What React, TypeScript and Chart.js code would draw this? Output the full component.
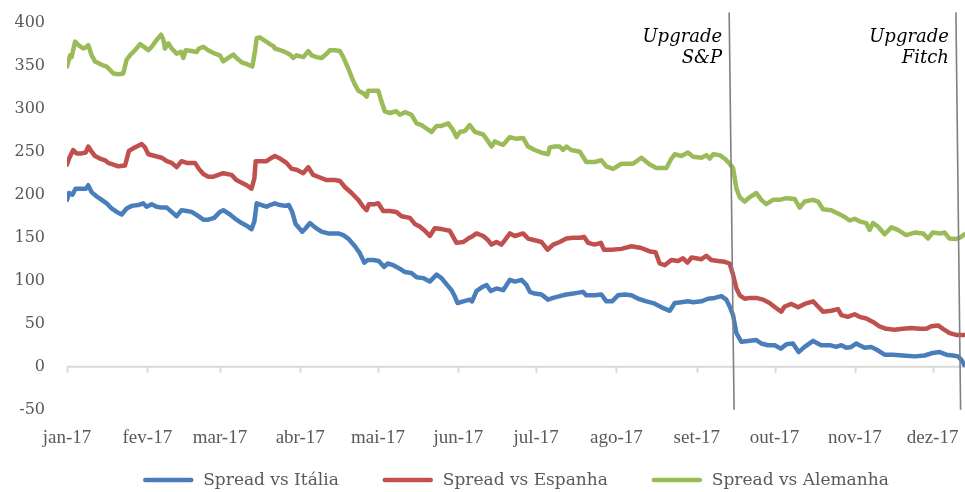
import React, { useEffect, useRef } from "react";
import { Chart, registerables } from "chart.js";

Chart.register(...registerables);

// ---- Data (x = days since 1 Jan 2017) ----
const monthTickDays = [0, 31, 59, 90, 120, 151, 181, 212, 243, 273, 304, 334];
const monthLabels = ["jan-17", "fev-17", "mar-17", "abr-17", "mai-17", "jun-17", "jul-17", "ago-17", "set-17", "out-17", "nov-17", "dez-17"];
const yMin = -50;
const yMax = 400;
const yStep = 50;
const xMaxDay = 346.5;

const seriesNames = ["Spread vs Itália", "Spread vs Espanha", "Spread vs Alemanha"];
const seriesColors = ["#4a7ebb", "#c0504d", "#9bbb59"];

const italiaDays = [0, 0.8, 2.1, 3.3, 5.7, 7.3, 8.2, 9.5, 11.4, 13.4, 15.3, 17.2, 19.2, 21.1, 23, 25, 27.5, 29.4, 30.7, 32.7, 34.6, 36.5, 38.5, 40.4, 42.3, 44.2, 46.2, 48.1, 50.7, 52.6, 54.5, 56.8, 59, 60.3, 62.9, 65.4, 67.4, 69.3, 71.2, 72.3, 73.2, 75.1, 77, 78.3, 80.2, 82.2, 84.1, 85.6, 86.9, 88.2, 90.8, 92.1, 93.7, 95.7, 98.2, 100.8, 104.7, 106.6, 108.5, 111.1, 113, 114.7, 116, 118.2, 120.3, 122.4, 123.7, 125.9, 128.4, 130.4, 132.9, 134.9, 137.4, 140, 142.6, 144.5, 146.4, 148.4, 149.6, 150.7, 152.9, 155.4, 156.3, 158, 159.9, 161.9, 163.5, 165.7, 168.3, 170.9, 172.8, 175.4, 177.3, 178.6, 180.5, 183.1, 185.6, 187.6, 190.1, 192.7, 195.3, 199.1, 200.4, 203.6, 206.2, 208.1, 210.3, 212.6, 215.2, 217.8, 220.4, 223.6, 226.2, 229.4, 232.6, 234.5, 237.1, 239.6, 241.6, 244.8, 247.3, 249.9, 252.5, 254.4, 255.7, 257, 258.3, 260.2, 262.8, 266, 267.9, 270.5, 273.1, 275.4, 277.6, 280.1, 282.3, 284.6, 287.9, 291, 294.3, 296.8, 298.8, 300.7, 302.6, 304.6, 305.8, 307.8, 310.3, 312.3, 315.5, 318.7, 322.5, 327.1, 330.9, 334.1, 336.7, 339.3, 341.8, 343.8, 345.1, 346.3];
const italiaValues = [194, 202, 200, 207, 207, 207, 211, 203, 198, 194, 190, 184, 180, 177, 184, 187, 188, 190, 186, 189, 186, 185, 185, 180, 175, 182, 181, 180, 175, 171, 171, 173, 180, 182, 177, 171, 167, 164, 160, 169, 190, 188, 186, 188, 190, 188, 187, 188, 180, 166, 157, 161, 167, 162, 157, 155, 155, 153, 149, 140, 132, 121, 124, 124, 123, 116, 120, 118, 114, 110, 109, 104, 103, 99, 107, 103, 96, 89, 82, 74, 76, 78, 76, 88, 92, 95, 88, 91, 89, 101, 99, 101, 95, 87, 85, 84, 78, 80, 82, 84, 85, 87, 83, 83, 84, 76, 76, 83, 84, 83, 79, 76, 74, 69, 65, 74, 75, 76, 75, 76, 79, 80, 82, 78, 70, 60, 39, 29, 30, 31, 27, 25, 25, 21, 26, 27, 17, 23, 30, 25, 25, 23, 25, 22, 23, 27, 25, 22, 23, 20, 14, 14, 13, 12, 13, 16, 17, 14, 13, 12, 8, 2];

const espanhaDays = [0, 0.8, 2.4, 3.7, 5.7, 7.2, 8.2, 9.5, 10.8, 12.7, 14.7, 15.9, 17.9, 19.8, 22.4, 23.9, 25.6, 27.5, 28.8, 30.1, 31.4, 34, 36.5, 38.5, 40.4, 42.3, 44.2, 46.2, 49.4, 50.9, 52.6, 54.5, 56.5, 60.3, 63.5, 65.4, 67.4, 69.3, 71.2, 72.3, 72.8, 75.1, 77, 79, 80.2, 82.2, 84.7, 86.7, 88.6, 91.2, 93.1, 95, 97.6, 100.2, 103.4, 105.3, 107.2, 109.8, 112.4, 114.3, 115.6, 116.5, 118.8, 120.1, 122, 124.6, 127.1, 129.1, 132.3, 134.2, 136.1, 138.1, 140, 141.9, 144.5, 147.7, 149.4, 150.3, 152.9, 154.8, 156.1, 158, 160.6, 162.5, 163.8, 165.7, 167.6, 168.9, 170.9, 172.8, 176, 177.9, 180.5, 183.1, 185.4, 187.6, 190.1, 192.7, 195.3, 197.9, 199.5, 201.1, 203.6, 206, 207.2, 210.1, 213.9, 217.8, 221.6, 224.9, 227.1, 228.7, 230.6, 233.2, 235.8, 237.7, 239.4, 241, 244.8, 246.7, 248.6, 251.2, 253.8, 255.7, 257, 258.3, 259.6, 261.5, 263.4, 266, 268.6, 271.1, 273.7, 275.6, 276.9, 279.5, 282.1, 284.6, 287.9, 289.8, 291.7, 294.9, 297.5, 298.8, 301.3, 303.9, 305.8, 308.4, 311, 313.5, 316.1, 319.3, 322.5, 325.8, 329, 331.6, 333.5, 336.1, 338, 340.6, 343.1, 346.3];
const espanhaValues = [235, 242, 252, 248, 248, 249, 256, 250, 245, 242, 240, 237, 235, 233, 234, 251, 254, 257, 259, 255, 247, 245, 243, 239, 237, 232, 239, 237, 237, 230, 224, 221, 221, 225, 223, 217, 214, 211, 207, 219, 239, 239, 239, 243, 245, 242, 237, 230, 229, 225, 232, 223, 220, 217, 217, 216, 209, 202, 194, 186, 182, 189, 189, 190, 181, 181, 180, 175, 173, 166, 163, 158, 152, 161, 160, 158, 149, 144, 145, 149, 151, 155, 152, 147, 142, 145, 142, 147, 155, 152, 155, 149, 147, 145, 136, 142, 145, 149, 150, 150, 151, 144, 142, 144, 136, 136, 137, 140, 138, 134, 133, 120, 118, 124, 123, 126, 121, 127, 125, 129, 124, 123, 122, 120, 107, 91, 83, 79, 80, 80, 78, 74, 68, 64, 70, 73, 69, 73, 76, 70, 64, 65, 67, 60, 58, 61, 58, 56, 52, 47, 44, 43, 44, 45, 44, 44, 47, 48, 44, 39, 37, 37];

const alemanhaDays = [0, 1.2, 1.8, 3.1, 4.4, 6.3, 7.6, 8.2, 9.5, 10.8, 13.4, 15.3, 16.6, 17.9, 19.8, 21.7, 23, 24.3, 26.2, 28.2, 30.1, 31.4, 32.7, 34.6, 36.3, 37.2, 37.8, 39.1, 40.4, 42.3, 44, 44.9, 45.8, 48.1, 50, 50.9, 52.6, 54.5, 57.1, 59, 60.3, 62.2, 64.2, 65.4, 67.4, 69.3, 71.5, 72.5, 73.2, 74.4, 76.4, 78.3, 79.6, 80.2, 82.2, 84.1, 86, 87.3, 88.6, 91.2, 93.1, 94.4, 96.3, 98.2, 100.2, 101.4, 103.4, 105.3, 106.6, 108.5, 109.8, 111.1, 112.4, 114.3, 115.6, 116.2, 118.2, 120.1, 121.4, 122.6, 124.6, 127.1, 128.4, 130.4, 132.9, 134.9, 136.8, 138.7, 140.6, 142.6, 144.5, 147.1, 149, 150.3, 151.6, 153.5, 155.4, 157.4, 160.6, 162.5, 163.8, 165.1, 166.4, 168.3, 170.9, 173.4, 176, 177.9, 180.5, 183.1, 185.6, 186.3, 188.2, 190.1, 191.4, 192.7, 194.6, 197.9, 200.4, 203.6, 206.2, 208.1, 210.7, 213.9, 218.4, 221.6, 224.9, 227.4, 231.3, 233.2, 234.5, 237.1, 239.6, 241.6, 244.8, 246.7, 248, 249.3, 251.8, 253.8, 255.7, 257, 258.3, 259.6, 261.5, 263.4, 266, 267.9, 269.8, 272.4, 275, 277.6, 280.8, 282.7, 284.6, 287.9, 289.8, 291.7, 294.9, 297.5, 300.1, 302, 303.9, 305.8, 308.4, 309.7, 311, 312.9, 315.5, 318.1, 320.6, 323.8, 327.1, 330.3, 332.2, 334.1, 337.3, 338.6, 340.5, 343.1, 345.1, 346.3];
const alemanhaValues = [349, 362, 360, 378, 374, 370, 372, 374, 362, 355, 351, 349, 345, 341, 340, 341, 357, 362, 368, 375, 371, 368, 372, 380, 386, 380, 370, 376, 370, 364, 366, 359, 368, 367, 366, 370, 372, 368, 364, 362, 355, 359, 363, 359, 354, 352, 349, 366, 382, 383, 379, 375, 373, 370, 368, 366, 363, 359, 362, 360, 367, 362, 360, 359, 364, 368, 368, 367, 360, 347, 337, 328, 321, 318, 314, 321, 321, 321, 308, 297, 295, 297, 293, 296, 293, 283, 281, 277, 273, 280, 280, 283, 275, 267, 273, 274, 281, 273, 270, 262, 256, 262, 260, 258, 267, 265, 266, 256, 252, 249, 247, 255, 256, 256, 252, 256, 252, 250, 238, 238, 240, 233, 230, 236, 236, 243, 235, 231, 231, 242, 247, 245, 249, 244, 243, 246, 242, 247, 246, 242, 236, 231, 207, 197, 192, 197, 202, 194, 189, 194, 194, 196, 195, 185, 192, 194, 192, 183, 182, 178, 174, 170, 172, 169, 167, 159, 167, 163, 154, 162, 159, 153, 156, 155, 149, 156, 155, 156, 149, 148.5, 151, 154];

// Rating upgrade marker lines: day at top and at bottom of each drawn line
const upgradeTopDays = [255.5, 343];
const upgradeBottomDays = [257.4, 344.8];
const upgradeLabels = [["Upgrade", "S&P"], ["Upgrade", "Fitch"]];
const upgradeLineTopValue = 412;

const toPoints = (days: number[], values: number[]) => days.map((d, i) => ({ x: d, y: values[i] }));

const decorPlugin = {
  id: "decor",
  beforeDatasetsDraw(chart: any) {
    const { ctx, chartArea, scales } = chart;
    const xs = scales.x;
    const ys = scales.y;
    const y0 = ys.getPixelForValue(0);
    ctx.save();
    ctx.strokeStyle = "#d9d9d9";
    ctx.lineWidth = 2;
    ctx.beginPath();
    ctx.moveTo(chartArea.left, y0);
    ctx.lineTo(chartArea.right, y0);
    for (const d of monthTickDays) {
      const px = Math.round(xs.getPixelForValue(d)) + 0.5;
      ctx.moveTo(px, y0);
      ctx.lineTo(px, y0 + 6);
    }
    ctx.stroke();
    ctx.restore();
  },
  afterDraw(chart: any) {
    const { ctx, chartArea, scales } = chart;
    const xs = scales.x;
    const ys = scales.y;
    ctx.save();
    for (let i = 0; i < upgradeTopDays.length; i++) {
      const xt = xs.getPixelForValue(upgradeTopDays[i]);
      const xb = xs.getPixelForValue(upgradeBottomDays[i]);
      const yt = ys.getPixelForValue(upgradeLineTopValue);
      const yb = ys.getPixelForValue(yMin);
      ctx.strokeStyle = "#808080";
      ctx.lineWidth = 1.6;
      ctx.beginPath();
      ctx.moveTo(xt, yt);
      ctx.lineTo(xb, yb);
      ctx.stroke();
      ctx.fillStyle = "#000000";
      ctx.font = "italic 18px 'DejaVu Serif'";
      ctx.textAlign = "right";
      ctx.textBaseline = "alphabetic";
      const lines = upgradeLabels[i];
      for (let j = 0; j < lines.length; j++) {
        ctx.fillText(lines[j], xt - 7, chartArea.top + 19 + j * 21.6);
      }
    }
    ctx.font = "17px 'DejaVu Serif'";
    ctx.textAlign = "left";
    ctx.textBaseline = "middle";
    const sw = 50;
    const gapText = 10;
    const gapItem = 44;
    const widths = seriesNames.map((n) => ctx.measureText(n).width);
    const total = widths.reduce((a, w) => a + sw + gapText + w, 0) + gapItem * (seriesNames.length - 1);
    let lx = (chartArea.left + chartArea.right) / 2 - total / 2;
    const ly = 480;
    for (let i = 0; i < seriesNames.length; i++) {
      ctx.strokeStyle = seriesColors[i];
      ctx.lineWidth = 4.5;
      ctx.lineCap = "round";
      ctx.beginPath();
      ctx.moveTo(lx + 2, ly);
      ctx.lineTo(lx + sw - 2, ly);
      ctx.stroke();
      ctx.fillStyle = "#595959";
      ctx.fillText(seriesNames[i], lx + sw + gapText, ly + 1);
      lx += sw + gapText + widths[i] + gapItem;
    }
    ctx.restore();
  },
};

export default function App() {
  const canvasRef = useRef<HTMLCanvasElement | null>(null);

  useEffect(() => {
    const canvas = canvasRef.current;
    if (!canvas) return;
    const seriesDays = [italiaDays, espanhaDays, alemanhaDays];
    const seriesValues = [italiaValues, espanhaValues, alemanhaValues];
    const chart = new Chart(canvas, {
      type: "line",
      data: {
        datasets: seriesNames.map((name, i) => ({
          label: name,
          data: toPoints(seriesDays[i], seriesValues[i]),
          borderColor: seriesColors[i],
          backgroundColor: seriesColors[i],
          borderWidth: 4.5,
          pointRadius: 0,
          pointHoverRadius: 0,
          tension: 0,
          borderJoinStyle: "round",
          borderCapStyle: "round",
          fill: false,
        })),
      },
      options: {
        responsive: false,
        animation: false,
        devicePixelRatio: 1,
        layout: { padding: { top: 22.7, left: 0, right: 0, bottom: 0 } },
        plugins: {
          legend: { display: false },
          tooltip: { enabled: false },
        },
        scales: {
          x: {
            type: "linear",
            min: 0,
            max: xMaxDay,
            grid: { display: false, drawTicks: false },
            border: { display: false },
            afterBuildTicks: (scale: any) => {
              scale.ticks = monthTickDays.map((v) => ({ value: v }));
            },
            afterFit: (scale: any) => {
              scale.height = 82.3;
              scale.paddingLeft = 0;
              scale.paddingRight = 0;
              scale.paddingTop = 0;
              scale.paddingBottom = 0;
            },
            ticks: {
              autoSkip: false,
              maxRotation: 0,
              minRotation: 0,
              padding: 17,
              color: "#595959",
              font: { family: "'Liberation Serif'", size: 19 },
              callback: (_v: any, index: number) => monthLabels[index],
            },
          },
          y: {
            min: yMin,
            max: yMax,
            grid: { display: false, drawTicks: false },
            border: { display: false },
            afterFit: (scale: any) => {
              scale.width = 67;
              scale.paddingLeft = 0;
              scale.paddingRight = 0;
              scale.paddingTop = 0;
              scale.paddingBottom = 0;
            },
            ticks: {
              stepSize: yStep,
              padding: 22,
              color: "#595959",
              font: { family: "'DejaVu Serif'", size: 16 },
            },
          },
        },
      },
      plugins: [decorPlugin],
    });
    return () => chart.destroy();
  }, []);

  return (
    <div style={{ position: "absolute", left: 0, top: 0, width: 965, height: 492, background: "#ffffff" }}>
      <canvas ref={canvasRef} width={965} height={492} />
    </div>
  );
}
